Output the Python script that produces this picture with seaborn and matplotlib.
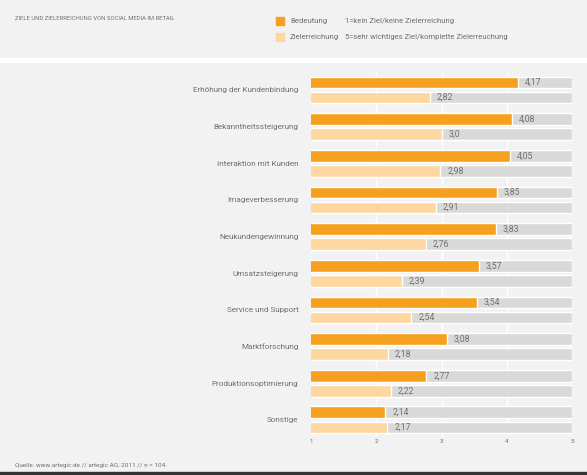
import matplotlib
matplotlib.use("Agg")
import matplotlib.pyplot as plt
import seaborn as sns
import pandas as pd
from matplotlib.patches import Rectangle

categories = [
    "Erhöhung der Kundenbindung",
    "Bekanntheitssteigerung",
    "Interaktion mit Kunden",
    "Imageverbesserung",
    "Neukundengewinnung",
    "Umsatzsteigerung",
    "Service und Support",
    "Marktforschung",
    "Produktionsoptimierung",
    "Sonstige",
]
bedeutung = [4.17, 4.08, 4.05, 3.85, 3.83, 3.57, 3.54, 3.08, 2.77, 2.14]
zielerreichung = [2.82, 3.00, 2.98, 2.91, 2.76, 2.39, 2.54, 2.18, 2.22, 2.17]
series_names = ["Bedeutung", "Zielerreichung"]
scale_max = 5
x_ticks = [1, 2, 3, 4, 5]

title = "ZIELE UND ZIELERREICHUNG VON SOCIAL MEDIA IM RETAIL"
scale_notes = ["1=kein Ziel/keine Zielerreichung",
               "5=sehr wichtiges Ziel/komplette Zielerreuchung"]
source = "Quelle: www.artegic.de // artegic AG, 2011 // n = 104."

ORANGE = "#F6A01F"
LIGHT = "#FDD6A0"
BARBG = "#D9DAD8"
BG = "#F2F2F2"
TXT = "#707070"

df = pd.DataFrame({
    "Kategorie": categories * 2,
    "Serie": [series_names[0]] * len(categories) + [series_names[1]] * len(categories),
    "Wert": bedeutung + zielerreichung,
})
df_bg = df.copy()
df_bg["Wert"] = scale_max

sns.set_style("white")
plt.rcParams["font.family"] = ["Roboto", "DejaVu Sans"]

fig = plt.figure(figsize=(5.87, 4.75), dpi=100, facecolor=BG)
ax = fig.add_axes([311 / 587, 1 - 436 / 475, (572 - 311) / 587, (436 - 72) / 475])
ax.set_facecolor(BG)

for xv in x_ticks[1:]:
    ax.axvline(xv, color="white", lw=1.0, zorder=0)

sns.barplot(data=df_bg, y="Kategorie", x="Wert", hue="Serie", orient="h",
            palette=[BARBG, BARBG], width=0.82, gap=0.22, legend=False,
            ax=ax, zorder=1, saturation=1)
sns.barplot(data=df, y="Kategorie", x="Wert", hue="Serie", orient="h",
            palette=[ORANGE, LIGHT], width=0.82, gap=0.22, legend=False,
            ax=ax, zorder=2, saturation=1)


def fmt(v):
    s = f"{v:.2f}".rstrip("0")
    if s.endswith("."):
        s += "0"
    return s.replace(".", ",")


for cont, vals in zip(ax.containers[2:], [bedeutung, zielerreichung]):
    ax.bar_label(cont, labels=[fmt(v) for v in vals], padding=5,
                 fontsize=6.3, color=TXT)

ax.set_xlim(1, scale_max)
ax.set_ylim(9.44, -0.49)
ax.set_xticks(x_ticks)
ax.set_xticklabels([str(t) for t in x_ticks], fontsize=4.5, color=TXT)
ax.tick_params(axis="x", length=0, pad=2)
ax.tick_params(axis="y", length=0, pad=9, labelsize=5.9, labelcolor=TXT)
ax.set_xlabel("")
ax.set_ylabel("")
for s in ax.spines.values():
    s.set_visible(False)

# header
fig.text(15 / 587, 1 - 18 / 475, title, fontsize=4.2, color=TXT, va="center")
fig.patches.append(Rectangle((276 / 587, 1 - 25 / 475), 8 / 587, 8 / 475,
                             transform=fig.transFigure, color=ORANGE))
fig.patches.append(Rectangle((276 / 587, 1 - 41 / 475), 8 / 587, 8 / 475,
                             transform=fig.transFigure, color=LIGHT))
fig.text(290 / 587, 1 - 21 / 475, series_names[0], fontsize=5.6, color=TXT, va="center")
fig.text(290 / 587, 1 - 37 / 475, series_names[1], fontsize=5.6, color=TXT, va="center")
fig.text(345 / 587, 1 - 21 / 475, scale_notes[0], fontsize=5.5, color=TXT, va="center")
fig.text(345 / 587, 1 - 37 / 475, scale_notes[1], fontsize=5.5, color=TXT, va="center")

# white separator band and bottom line
fig.patches.append(Rectangle((0, 1 - 62 / 475), 1, 4 / 475,
                             transform=fig.transFigure, color="white"))
fig.patches.append(Rectangle((0, 0), 1, 3 / 475,
                             transform=fig.transFigure, color="#333333"))

fig.text(15 / 587, 1 - 465 / 475, source, fontsize=4.6, color=TXT, va="center")

fig.savefig("out.png", dpi=100, facecolor=BG)
